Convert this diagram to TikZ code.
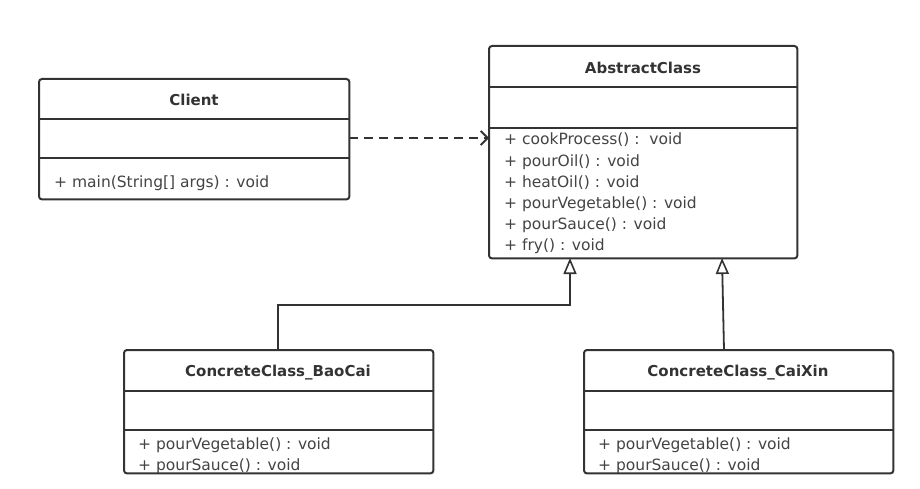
\documentclass[tikz,border=0pt]{standalone}
\usepackage{fontspec}
\setmainfont{DejaVu Sans}
\usetikzlibrary{arrows.meta}
\definecolor{ln}{HTML}{333333}
\definecolor{tx}{HTML}{444444}
\tikzset{
  cls/.style={fill=white, rounded corners=3pt, minimum width=#1, anchor=north west, inner sep=0pt},
  border/.style={draw=ln, line width=2pt, rounded corners=3pt},
  sep/.style={draw=ln, line width=1.8pt},
  ttl/.style={font=\fontsize{15}{17}\selectfont\bfseries, text=ln, anchor=center},
  mth/.style={font=\fontsize{15.5}{17}\selectfont, text=tx, anchor=west, inner sep=0pt},
  conn/.style={draw=ln, line width=1.8pt},
  gen/.style={conn, -{Triangle[open, width=13pt, length=16pt, line width=1.6pt]}},
  dep/.style={conn, dashed, dash pattern=on 9pt off 6pt, -{Straight Barb[length=7pt, width=14pt, line width=1.8pt]}}
}
\begin{document}
\begin{tikzpicture}[x=1pt, y=-1pt]
\useasboundingbox (0,0) rectangle (920,489);
% Client
\node[cls=310pt, minimum height=120pt] (client) at (39,79) {};
\draw[sep] (39,119) -- (349,119);
\draw[sep] (39,158) -- (349,158);
\node[ttl] (clientT) at (194,100) {Client};
\node[mth] (clientM) at (54,183) {+ main(String[] args) : void};
\draw[border] (client.north west) rectangle (client.south east);
% AbstractClass
\node[cls=308pt, minimum height=212pt] (abs) at (489,46) {};
\draw[sep] (489,87) -- (797,87);
\draw[sep] (489,128) -- (797,128);
\node[ttl] (absT) at (643,68) {AbstractClass};
\node[mth] (m1) at (504,140) {+ cookProcess() :\ \ void};
\node[mth] (m2) at (504,162) {+ pourOil() : void};
\node[mth] (m3) at (504,183) {+ heatOil() : void};
\node[mth] (m4) at (504,204) {+ pourVegetable() : void};
\node[mth] (m5) at (504,225) {+ pourSauce() : void};
\node[mth] (m6) at (504,246) {+ fry() : void};
\draw[border] (abs.north west) rectangle (abs.south east);
% BaoCai
\node[cls=309pt, minimum height=123pt] (bao) at (124,350) {};
\draw[sep] (124,391) -- (433,391);
\draw[sep] (124,430) -- (433,430);
\node[ttl] (baoT) at (278,373) {ConcreteClass\_BaoCai};
\node[mth] (b1) at (138,445) {+ pourVegetable() : void};
\node[mth] (b2) at (138,466) {+ pourSauce() : void};
\draw[border] (bao.north west) rectangle (bao.south east);
% CaiXin
\node[cls=309pt, minimum height=123pt] (cai) at (584,350) {};
\draw[sep] (584,391) -- (893,391);
\draw[sep] (584,430) -- (893,430);
\node[ttl] (caiT) at (738,373) {ConcreteClass\_CaiXin};
\node[mth] (c1) at (598,445) {+ pourVegetable() : void};
\node[mth] (c2) at (598,466) {+ pourSauce() : void};
\draw[border] (cai.north west) rectangle (cai.south east);
% connectors
\coordinate (absB1) at (570,258);
\coordinate (absB2) at (722,258);
\coordinate (baoTop) at (278,350);
\coordinate (caiTop) at (724,350);
\draw[gen] (baoTop) -- (278,305) -- (570,305) -- (absB1);
\draw[gen] (caiTop) -- (absB2);
\coordinate (clientR) at (349,138);
\coordinate (absL) at (489,138);
\draw[dep] (clientR) -- (absL);
\end{tikzpicture}
\end{document}
